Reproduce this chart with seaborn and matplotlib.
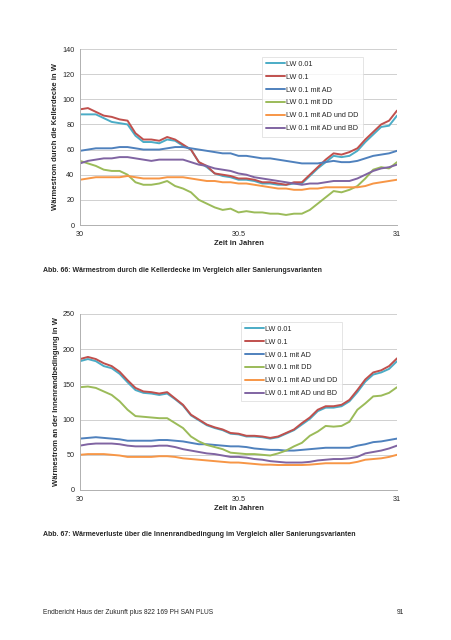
import numpy as np
import pandas as pd
import matplotlib
matplotlib.use("Agg")
import matplotlib.pyplot as plt
import seaborn as sns

# time axis, one value every 0.025 years
zeit = [30 + i * 0.025 for i in range(41)]

varianten = ['LW 0.01', 'LW 0.1', 'LW 0.1 mit AD', 'LW 0.1 mit DD',
             'LW 0.1 mit AD und DD', 'LW 0.1 mit AD und BD']
farben = ['#4bacc6', '#c0504d', '#4f81bd', '#9bbb59', '#f79646', '#8064a2']

# Abb. 66 - Kellerdecke
kd_lw001 = [88, 88, 88, 85, 82, 81, 80, 71, 66, 66, 65, 68, 67, 63, 60, 50, 46, 41, 39, 38, 36,
            36, 35, 33, 33, 32, 32, 33, 33, 39, 45, 50, 55, 54, 55, 59, 66, 72, 78, 79, 87]
kd_lw01 = [92, 93, 90, 87, 86, 84, 83, 73, 68, 68, 67, 70, 68, 64, 60, 50, 47, 41, 40, 39, 37,
           37, 36, 34, 34, 33, 32, 34, 34, 40, 46, 52, 57, 56, 58, 61, 68, 74, 80, 83, 91]
kd_ad = [59, 60, 61, 61, 61, 62, 62, 61, 60, 60, 60, 61, 62, 62, 61, 60, 59, 58, 57, 57, 55,
         55, 54, 53, 53, 52, 51, 50, 49, 49, 49, 50, 51, 50, 50, 51, 53, 55, 56, 57, 59]
kd_dd = [51, 49, 47, 44, 43, 43, 40, 34, 32, 32, 33, 35, 31, 29, 26, 20, 17, 14, 12, 13, 10,
         11, 10, 10, 9, 9, 8, 9, 9, 12, 17, 22, 27, 26, 28, 31, 37, 44, 46, 45, 50]
kd_ad_dd = [36, 37, 38, 38, 38, 38, 39, 38, 37, 37, 37, 38, 38, 38, 37, 36, 35, 35, 34, 34, 33,
            33, 32, 31, 30, 29, 29, 28, 28, 29, 29, 30, 30, 30, 30, 30, 31, 33, 34, 35, 36]
kd_ad_bd = [49, 51, 52, 53, 53, 54, 54, 53, 52, 51, 52, 52, 52, 52, 50, 48, 47, 45, 44, 43, 41,
            40, 38, 37, 36, 35, 34, 33, 32, 33, 33, 34, 35, 35, 35, 37, 40, 43, 45, 46, 48]

# Abb. 67 - Innenrandbedingung
ir_lw001 = [183, 186, 183, 176, 173, 165, 153, 142, 138, 137, 135, 137, 129, 120, 106, 99, 92, 88, 85, 80, 79,
            76, 76, 75, 73, 75, 80, 85, 93, 101, 112, 117, 117, 119, 126, 139, 154, 164, 167, 172, 183]
ir_lw01 = [186, 189, 186, 180, 176, 168, 156, 145, 140, 139, 137, 139, 130, 121, 107, 100, 93, 89, 86, 81, 80,
           77, 77, 76, 74, 76, 81, 86, 95, 103, 114, 119, 119, 121, 128, 142, 157, 167, 170, 176, 187]
ir_ad = [73, 74, 75, 74, 73, 72, 70, 70, 70, 70, 71, 71, 70, 69, 67, 65, 65, 64, 63, 62, 62,
         61, 59, 58, 57, 57, 56, 56, 57, 58, 59, 60, 60, 60, 60, 63, 65, 68, 69, 71, 73]
ir_dd = [146, 147, 145, 140, 135, 126, 114, 105, 104, 103, 102, 102, 95, 88, 76, 69, 64, 61, 58, 53, 52,
         51, 51, 50, 49, 52, 56, 62, 67, 77, 83, 91, 90, 91, 97, 114, 123, 133, 134, 138, 146]
ir_ad_dd = [50, 51, 51, 51, 50, 49, 47, 47, 47, 47, 48, 48, 47, 45, 44, 43, 42, 41, 40, 39, 39,
            38, 37, 36, 36, 35.5, 35.5, 35.5, 35.5, 36, 37, 38, 38, 38, 38, 40, 43, 44, 45, 47, 50]
ir_ad_bd = [63, 65, 66, 66, 66, 65, 63, 62, 62, 62, 63, 63, 61, 58, 56, 54, 52, 51, 49, 47, 47,
            46, 44, 43, 41, 40, 39, 39, 39, 40, 42, 43, 44, 44, 45, 47, 52, 54, 56, 59, 63]


def long_df(reihen):
    frames = []
    for name, werte in zip(varianten, reihen):
        frames.append(pd.DataFrame({'Zeit': zeit, 'Wert': werte, 'Variante': name}))
    return pd.concat(frames, ignore_index=True)


df_kd = long_df([kd_lw001, kd_lw01, kd_ad, kd_dd, kd_ad_dd, kd_ad_bd])
df_ir = long_df([ir_lw001, ir_lw01, ir_ad, ir_dd, ir_ad_dd, ir_ad_bd])

sns.set_style("white")
plt.rcParams['font.family'] = ['Liberation Sans', 'DejaVu Sans']

W, H = 452, 640
fig = plt.figure(figsize=(W / 100, H / 100), dpi=100)


def px_axes(x0, y0, x1, y1):
    return fig.add_axes([x0 / W, 1 - y1 / H, (x1 - x0) / W, (y1 - y0) / H])


def style_axes(ax, ymax, ystep, ylabel, legend_bbox):
    ax.set_xlim(30, 31)
    ax.set_ylim(0, ymax)
    ax.set_xticks([30, 30.5, 31])
    ax.set_xticklabels(['30', '30.5', '31'])
    ax.set_yticks(np.arange(0, ymax + 1, ystep))
    ax.yaxis.grid(True, color='#d0d0d0', linewidth=0.7)
    ax.set_axisbelow(True)
    for s in ['top', 'right']:
        ax.spines[s].set_visible(False)
    for s in ['left', 'bottom']:
        ax.spines[s].set_color('#b0b0b0')
        ax.spines[s].set_linewidth(0.7)
    ax.tick_params(axis='both', labelsize=5.2, length=2, width=0.6, color='#b0b0b0', pad=2)
    ax.set_xlabel('Zeit in Jahren', fontsize=5.5, fontweight='bold', labelpad=2)
    ax.set_ylabel(ylabel, fontsize=5.5, fontweight='bold', labelpad=2)
    leg = ax.legend(loc='upper left', bbox_to_anchor=legend_bbox, fontsize=5.2,
                    frameon=True, fancybox=False, handlelength=2.6, handletextpad=0.2,
                    labelspacing=0.8, borderpad=0.6)
    leg.get_frame().set_edgecolor('#d9d9d9')
    leg.get_frame().set_linewidth(0.6)
    for line in leg.get_lines():
        line.set_linewidth(1.4)


ax1 = px_axes(80, 49, 397, 225)
sns.lineplot(data=df_kd, x='Zeit', y='Wert', hue='Variante', palette=farben,
             linewidth=1.4, ax=ax1)
style_axes(ax1, 140, 20, 'Wärmestrom durch die Kellerdecke in W',
           ((258 - 80) / 317, 1 - (53 - 49) / 176))

ax2 = px_axes(80, 314, 397, 490)
sns.lineplot(data=df_ir, x='Zeit', y='Wert', hue='Variante', palette=farben,
             linewidth=1.4, ax=ax2)
style_axes(ax2, 250, 50, 'Wärmestrom an der Innenrandbedingung in W',
           ((237 - 80) / 317, 1 - (318 - 314) / 176))

fig.text(43 / W, 1 - 270 / H, 'Abb. 66: Wärmestrom durch die Kellerdecke im Vergleich aller Sanierungsvarianten',
         fontsize=5, fontweight='bold', va='center', ha='left')
fig.text(43 / W, 1 - 535 / H, 'Abb. 67: Wärmeverluste über die Innenrandbedingung im Vergleich aller Sanierungsvarianten',
         fontsize=5, fontweight='bold', va='center', ha='left')
fig.text(43 / W, 1 - 612 / H, 'Endbericht Haus der Zukunft plus 822 169 PH SAN PLUS',
         fontsize=4.8, va='center', ha='left')
fig.text(404 / W, 1 - 612 / H, '91', fontsize=4.8, va='center', ha='right')

fig.savefig('out.png', dpi=100, facecolor='white')
